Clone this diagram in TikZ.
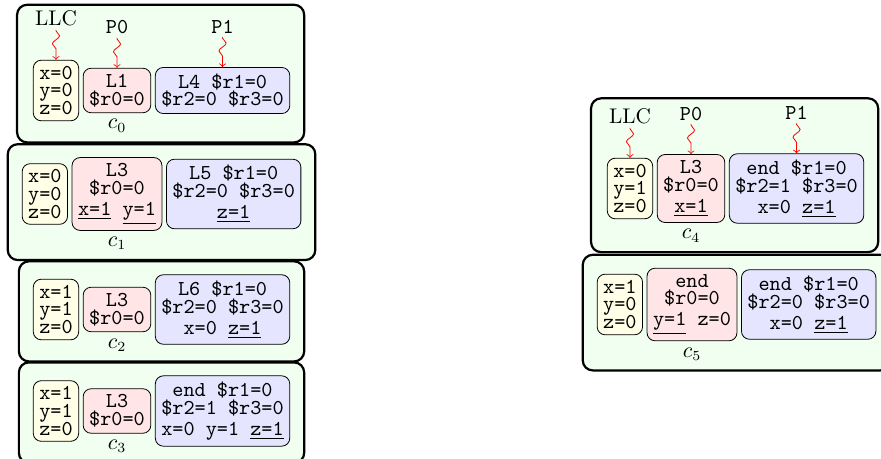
\documentclass[tikz,border=0pt]{standalone}
\usepackage{tikz}
\usetikzlibrary{positioning, fit, backgrounds, decorations.pathmorphing, arrows}

\begin{document}
\lineskiplimit=-20pt
\begin{tikzpicture}[x=0.5pt, y=-0.5pt, node distance=1.85pt,
    cell/.style={draw, rounded corners=4pt, inner xsep=3pt, inner ysep=3pt, align=center,
        font=\fontsize{10.6pt}{8.8pt}\selectfont\ttfamily},
    mem/.style={cell, fill=yellow!10},
    th0/.style={cell, fill=red!10},
    th1/.style={cell, fill=blue!10},
    cfg/.style={draw, line width=1.1pt, rounded corners=5pt, fill=green!6, inner xsep=7pt, inner ysep=6.5pt},
    clab/.style={inner sep=0pt, text depth=0pt, font=\fontsize{10.6pt}{12pt}\selectfont},
    plab/.style={inner sep=0pt, outer sep=2pt, text height=2pt, text depth=0pt, font=\fontsize{10.6pt}{12pt}\selectfont\ttfamily},
    wiggle/.style={->, red, decorate, decoration={snake, amplitude=1.8pt, segment length=8pt, pre length=0.5pt, post length=4.5pt}}]
        \useasboundingbox (0,0) rectangle (881,459);

        % c0
        \node[th0] (a0) at (117,90.5) {L1\\\$r0=0};
        \node[mem] (m0) [left=of a0] {x=0\\y=0\\z=0};
        \node[th1] (b0) [right=of a0] {L4 \$r1=0\\\$r2=0 \$r3=0};
        \node[clab] (l0) [below=3pt of a0] {$c_0$};
        \node[plab] (hm0) [above=15pt of m0] {\rmfamily LLC};
        \node[plab] (ha0) [above=15pt of a0] {P0};
        \node[plab] (hb0) [above=15pt of b0] {P1};

        % c1
        \node[th0] (a1) at (117,194) {L3\\\$r0=0\\[1.8pt]\underline{x=1} \underline{y=1}};
        \node[mem] (m1) [left=of a1] {x=0\\y=0\\z=0};
        \node[th1] (b1) [right=of a1] {L5 \$r1=0\\\$r2=0 \$r3=0\\[1.8pt]\underline{z=1}};
        \node[clab] (l1) [below=3pt of a1] {$c_1$};

        % c2
        \node[th0] (a2) at (117,309.5) {L3\\\$r0=0};
        \node[mem] (m2) [left=of a2] {x=1\\y=1\\z=0};
        \node[th1] (b2) [right=of a2] {L6 \$r1=0\\\$r2=0 \$r3=0\\[1.8pt]x=0 \underline{z=1}};
        \node[clab] (l2) [below=3pt of a2] {$c_2$};

        % c3
        \node[th0] (a3) at (117,411) {L3\\\$r0=0};
        \node[mem] (m3) [left=of a3] {x=1\\y=1\\z=0};
        \node[th1] (b3) [right=of a3] {end \$r1=0\\\$r2=1 \$r3=0\\[1.8pt]x=0 y=1 \underline{z=1}};
        \node[clab] (l3) [below=3pt of a3] {$c_3$};

        % c4
        \node[th0] (a4) at (691,188.5) {L3\\\$r0=0\\[1.8pt]\underline{x=1}};
        \node[mem] (m4) [left=of a4] {x=0\\y=1\\z=0};
        \node[th1] (b4) [right=of a4] {end \$r1=0\\\$r2=1 \$r3=0\\[1.8pt]x=0 \underline{z=1}};
        \node[clab] (l4) [below=3pt of a4] {$c_4$};
        \node[plab] (hm4) [above=15pt of m4] {\rmfamily LLC};
        \node[plab] (ha4) [above=15pt of a4] {P0};
        \node[plab] (hb4) [above=15pt of b4] {P1};

        % c5
        \node[th0] (a5) at (692,304.5) {end\\\$r0=0\\[1.8pt]\underline{y=1} z=0};
        \node[mem] (m5) [left=of a5] {x=1\\y=0\\z=0};
        \node[th1] (b5) [right=of a5] {end \$r1=0\\\$r2=0 \$r3=0\\[1.8pt]x=0 \underline{z=1}};
        \node[clab] (l5) [below=3pt of a5] {$c_5$};

        \draw[wiggle] (hm0) -- (m0);
        \draw[wiggle] (ha0) -- (a0);
        \draw[wiggle] (hb0) -- (b0);
        \draw[wiggle] (hm4) -- (m4);
        \draw[wiggle] (ha4) -- (a4);
        \draw[wiggle] (hb4) -- (b4);

        \begin{scope}[on background layer]
            \node[cfg, fit=(hm0)(ha0)(hb0)(m0)(a0)(b0)(l0)] (c0) {};
            \node[cfg, fit=(m1)(a1)(b1)(l1)] (c1) {};
            \node[cfg, fit=(m2)(a2)(b2)(l2)] (c2) {};
            \node[cfg, fit=(m3)(a3)(b3)(l3)] (c3) {};
            \node[cfg, fit=(hm4)(ha4)(hb4)(m4)(a4)(b4)(l4)] (c4) {};
            \node[cfg, fit=(m5)(a5)(b5)(l5)] (c5) {};
        \end{scope}
    \end{tikzpicture}
\end{document}
